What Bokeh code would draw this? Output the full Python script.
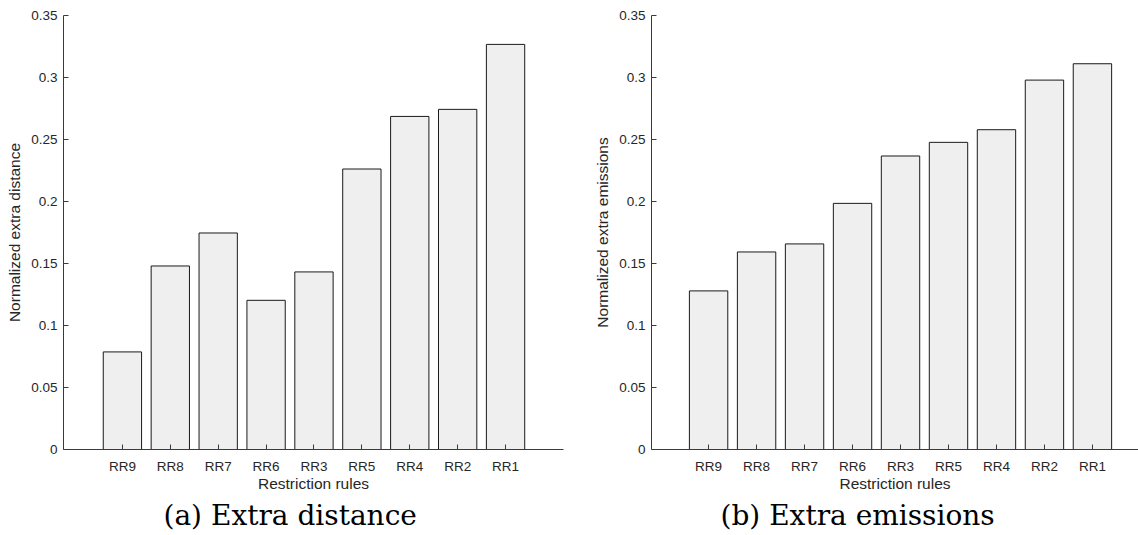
from bokeh.plotting import figure
from bokeh.layouts import row
from bokeh.models import FixedTicker, Title, Range1d
from bokeh.embed import file_html
from bokeh.resources import INLINE

rules_a = ["RR9", "RR8", "RR7", "RR6", "RR3", "RR5", "RR4", "RR2", "RR1"]
dist_a = [0.0787, 0.148, 0.1746, 0.1203, 0.1432, 0.2262, 0.2686, 0.2743, 0.3267]

rules_b = ["RR9", "RR8", "RR7", "RR6", "RR3", "RR5", "RR4", "RR2", "RR1"]
emis_b = [0.1279, 0.1593, 0.1658, 0.1985, 0.2367, 0.2477, 0.2579, 0.2979, 0.3111]

y_ticks = [0, 0.05, 0.1, 0.15, 0.2, 0.25, 0.3, 0.35]
y_tick_labels = ["0", "0.05", "0.1", "0.15", "0.2", "0.25", "0.3", "0.35"]

AX = "#3a3a3a"
TXT = "#262626"


def make(rules, vals, ylabel, caption, cap_offset, frame_w, x0, x1, border_left, border_right):
    xs = list(range(len(rules)))
    p = figure(output_backend="svg", toolbar_location=None,
               frame_width=frame_w, frame_height=434,
               min_border_left=border_left, min_border_right=border_right,
               min_border_top=15, min_border_bottom=86,
               x_range=Range1d(x0, x1), y_range=Range1d(0, 0.35))
    p.outline_line_color = None
    p.grid.visible = False
    p.vbar(x=xs, top=vals, width=0.8, fill_color="#efefef",
           line_color="#1a1a1a", line_width=1)

    xa = p.xaxis[0]
    xa.ticker = FixedTicker(ticks=xs)
    xa.major_label_overrides = {i: r for i, r in zip(xs, rules)}
    xa.axis_label = "Restriction rules"
    ya = p.yaxis[0]
    ya.ticker = FixedTicker(ticks=y_ticks)
    ya.major_label_overrides = {t: l for t, l in zip(y_ticks, y_tick_labels)}
    ya.axis_label = ylabel
    for ax in (xa, ya):
        ax.axis_line_color = AX
        ax.major_tick_line_color = AX
        ax.major_tick_in = 5
        ax.major_tick_out = 0
        ax.minor_tick_line_color = None
        ax.major_label_text_font = "Liberation Sans"
        ax.major_label_text_font_size = "13.5px"
        ax.major_label_text_color = TXT
        ax.axis_label_text_font = "Liberation Sans"
        ax.axis_label_text_font_size = "15.5px"
        ax.axis_label_text_font_style = "normal"
        ax.axis_label_text_color = TXT
    xa.major_label_standoff = 9
    xa.axis_label_standoff = -2
    ya.major_label_standoff = 6
    ya.axis_label_standoff = 5

    p.add_layout(Title(text=caption, align="left", offset=cap_offset,
                       text_font="DejaVu Serif", text_font_size="28px",
                       text_font_style="normal", text_color="#000000",
                       standoff=4), "below")
    return p


p1 = make(rules_a, dist_a, "Normalized extra distance", "(a) Extra distance", 100,
          500, -1.23, 9.21, 63, 28)
p2 = make(rules_b, emis_b, "Normalized extra emissions", "(b) Extra emissions", 69,
          487, -1.19, 8.96, 60, 0)

p = row(p1, p2)
open("out.html", "w").write(file_html(p, INLINE))
